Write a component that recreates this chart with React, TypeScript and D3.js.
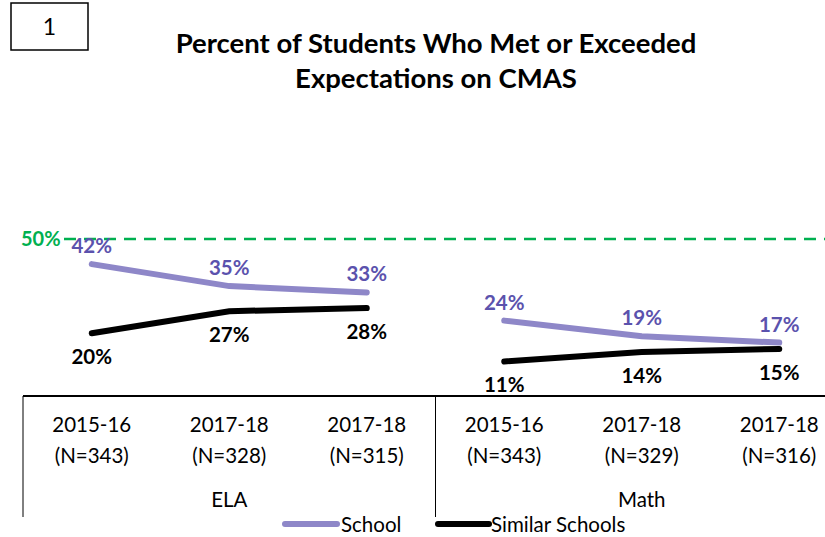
import React from 'react';
import * as d3 from 'd3';

const subjects = ['ELA', 'Math'];
const years = ['2015-16', '2017-18', '2017-18', '2015-16', '2017-18', '2017-18'];
const counts = ['(N=343)', '(N=328)', '(N=315)', '(N=343)', '(N=329)', '(N=316)'];
const schoolValues = [42, 35, 33, 24, 19, 17];
const similarValues = [20, 27, 28, 11, 14, 15];
const target = 50;

const W = 825;
const H = 537;
const FONT = 'Lato, "Open Sans", sans-serif';

const App = () => {
  const keys = years.map((y, i) => i);

  // six categories, the last one runs past the right edge like the original
  const x = d3.scaleBand<number>().domain(keys).range([23, 848]);
  const y = d3.scaleLinear().domain([0, 50]).range([396, 239]);
  const cx = (i: number) => (x(i) as number) + x.bandwidth() / 2;

  // each subject is its own segment
  const segs = (vals: number[]) => subjects.map((s, k) => vals.slice(k * 3, k * 3 + 3));
  const segLine = (vals: number[], k: number) =>
    d3.line<number>().x((d, i) => cx(k * 3 + i)).y(d => y(d))(vals);

  const groupEdge = (k: number) => x(k * 3) as number;

  return (
    <svg width={W} height={H} style={{ position: 'absolute', left: 0, top: 0, background: '#fff' }} fontFamily={FONT}>
      <rect x={11} y={3} width={77} height={47} fill="none" stroke="#000" strokeWidth={1.5} />
      <text x={49.5} y={35} textAnchor="middle" fontSize={23}>1</text>

      <text x={436} y={53} textAnchor="middle" fontSize={27.5} fontWeight="bold">Percent of Students Who Met or Exceeded</text>
      <text x={436} y={88} textAnchor="middle" fontSize={27.5} fontWeight="bold">Expectations on CMAS</text>

      {/* target line */}
      <line x1={64} x2={W} y1={y(target)} y2={y(target)} stroke="#00b050" strokeWidth={2.5} strokeDasharray="12,8" />
      <text x={21} y={y(target) + 7} fontSize={20} fontWeight="bold" fill="#00b050">{target}%</text>

      {segs(schoolValues).map((v, k) => (
        <path key={'s' + k} d={segLine(v, k) || ''} fill="none" stroke="#8e87c8" strokeWidth={6} strokeLinecap="round" />
      ))}
      {segs(similarValues).map((v, k) => (
        <path key={'b' + k} d={segLine(v, k) || ''} fill="none" stroke="#000" strokeWidth={6} strokeLinecap="round" />
      ))}

      {schoolValues.map((v, i) => (
        <text key={'sl' + i} x={cx(i)} y={y(v) - 11} textAnchor="middle" fontSize={20.5} fontWeight="bold" fill="#5b52ad">{v}%</text>
      ))}
      {similarValues.map((v, i) => (
        <text key={'bl' + i} x={cx(i)} y={y(v) + 31} textAnchor="middle" fontSize={20.5} fontWeight="bold" fill="#000">{v}%</text>
      ))}

      {/* category axis */}
      <line x1={23} x2={W} y1={396} y2={396} stroke="#000" strokeWidth={2} />
      <line x1={23} x2={23} y1={396} y2={517} stroke="#000" strokeWidth={1} />
      <line x1={groupEdge(1)} x2={groupEdge(1)} y1={396} y2={517} stroke="#000" strokeWidth={1} />
      {keys.map(i => (
        <g key={'t' + i}>
          <text x={cx(i)} y={432} textAnchor="middle" fontSize={20.5}>{years[i]}</text>
          <text x={cx(i)} y={463} textAnchor="middle" fontSize={20.5}>{counts[i]}</text>
        </g>
      ))}
      {subjects.map((s, k) => (
        <text key={s} x={cx(k * 3 + 1)} y={507} textAnchor="middle" fontSize={20.5}>{s}</text>
      ))}

      {/* legend */}
      <line x1={285} x2={337} y1={524} y2={524} stroke="#8e87c8" strokeWidth={6} strokeLinecap="round" />
      <text x={341} y={532} fontSize={20.5}>School</text>
      <line x1={438} x2={489} y1={524} y2={524} stroke="#000" strokeWidth={6} strokeLinecap="round" />
      <text x={491} y={532} fontSize={20.5}>Similar Schools</text>
    </svg>
  );
};

export default App;
